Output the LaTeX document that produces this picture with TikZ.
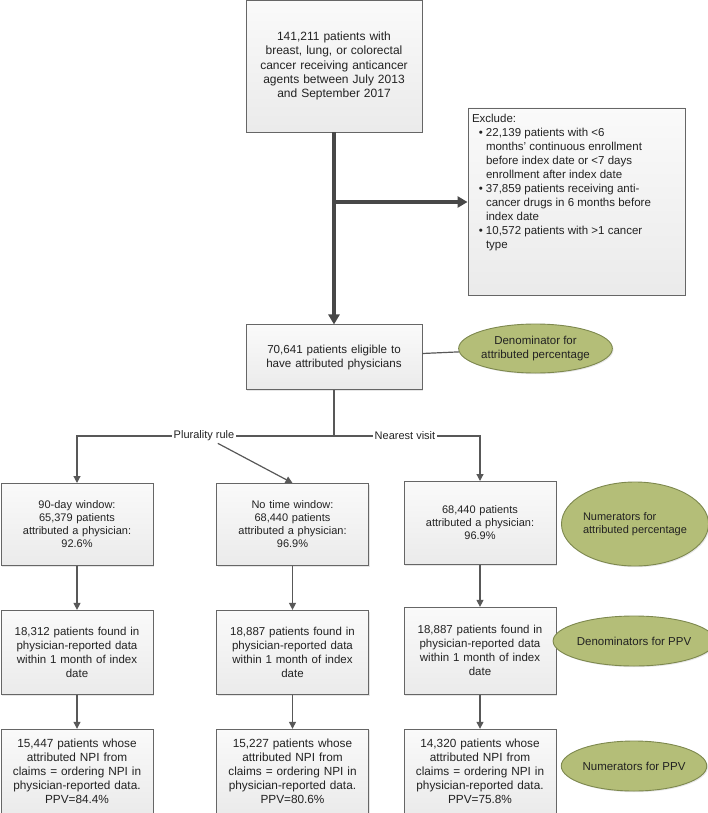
\documentclass[tikz,border=0pt]{standalone}
\usepackage{fontspec}
\setmainfont{Liberation Sans}
\usepackage{xcolor}
\usetikzlibrary{arrows.meta,positioning,shapes.geometric,shadows}

\definecolor{boxline}{RGB}{102,102,102}
\definecolor{inkgray}{RGB}{34,34,34}
\definecolor{linkgray}{RGB}{88,88,88}
\definecolor{trunkgray}{RGB}{72,72,72}
\definecolor{ovalfill}{RGB}{180,190,120}
\definecolor{ovalline}{RGB}{125,136,78}

\newcommand{\xbul}{\makebox[14pt][r]{\textbullet\hspace{3pt}}}
\newcommand{\xcont}{\hspace*{14pt}}

\begin{document}
\begin{tikzpicture}[
  x=1pt, y=-1pt,
  font=\fontsize{11}{13}\selectfont,
  text=inkgray,
  box/.style={draw=boxline, line width=0.9pt, top color=black!2, bottom color=black!8,
    drop shadow={opacity=0.2, shadow xshift=1.2pt, shadow yshift=-1.2pt}},
  stage/.style={box, align=center, text width=142pt, minimum width=152pt},
  stagemid/.style={stage, font=\fontsize{11.5}{14}\selectfont},
  stagelow/.style={stage, font=\fontsize{11.8}{14.2}\selectfont},
  wide/.style={box, align=center, text width=166pt, minimum width=176pt},
  oval/.style={ellipse, draw=ovalline, line width=0.9pt, fill=ovalfill, inner sep=0pt,
    drop shadow={opacity=0.2, shadow xshift=1.2pt, shadow yshift=-1.2pt}},
  tag/.style={inner sep=2pt},
  link/.style={draw=linkgray, line width=1.2pt},
  conn/.style={link, -{Triangle[width=7pt, length=7pt]}},
  trunk/.style={draw=trunkgray, line width=3.3pt, -{Triangle[width=11pt, length=10pt]}},
]
\useasboundingbox (0,0) rectangle (708,813);

\node[wide, minimum height=132pt, font=\fontsize{12}{14.2}\selectfont] (start) at (334,66)
  {141,211 patients with\\breast, lung, or colorectal\\cancer receiving anticancer\\agents between July 2013\\and September 2017};
\node[wide, minimum height=65pt, below=192pt of start, font=\fontsize{11.6}{13.5}\selectfont] (elig)
  {70,641 patients eligible to\\have attributed physicians};
\node[box, inner xsep=4pt, inner ysep=6pt, minimum width=217pt, minimum height=187pt] (excl) at (576.5,201.5)
  {\begin{minipage}[t][175pt][t]{209pt}\fontsize{11.5}{14}\selectfont
   Exclude:\\
   \xbul 22,139 patients with <6\\
   \xcont months' continuous enrollment\\
   \xcont before index date or <7 days\\
   \xcont enrollment after index date\\
   \xbul 37,859 patients receiving anti-\\
   \xcont cancer drugs in 6 months before\\
   \xcont index date\\
   \xbul 10,572 patients with >1 cancer\\
   \xcont type
   \end{minipage}};
\node[oval, align=center, minimum width=135pt, minimum height=49pt, font=\fontsize{11.5}{13.5}\selectfont] (denom) at (535.5,348.5)
  {Denominator for\\attributed percentage};

\coordinate (split) at (334,202);
\coordinate (fork) at (334,436);
\node[tag] (plur) at (204,436) {Plurality rule};
\node[tag] (near) at (405,436) {Nearest visit};

\node[stage, minimum height=82pt, anchor=north] (r1a) at (77,483)
  {90-day window:\\65,379 patients\\attributed a physician:\\92.6\%};
\node[stage, minimum height=82pt, anchor=north] (r1b) at (292.5,483)
  {No time window:\\68,440 patients\\attributed a physician:\\96.9\%};
\node[stage, minimum height=83pt, anchor=north] (r1c) at (480,481)
  {68,440 patients\\attributed a physician:\\96.9\%};
\node[stagemid, minimum height=84pt, below=44pt of r1a] (r2a)
  {18,312 patients found in\\physician-reported data\\within 1 month of index\\date};
\node[stagemid, minimum height=84pt, below=44pt of r1b] (r2b)
  {18,887 patients found in\\physician-reported data\\within 1 month of index\\date};
\node[stagemid, minimum height=87pt, below=42pt of r1c] (r2c)
  {18,887 patients found in\\physician-reported data\\within 1 month of index\\date};
\node[stagelow, minimum height=84pt, below=34pt of r2a] (r3a)
  {15,447 patients whose\\attributed NPI from\\claims = ordering NPI in\\physician-reported data.\\PPV=84.4\%};
\node[stagelow, minimum height=84pt, below=34pt of r2b] (r3b)
  {15,227 patients whose\\attributed NPI from\\claims = ordering NPI in\\physician-reported data.\\PPV=80.6\%};
\node[stagelow, minimum height=84pt, below=34pt of r2c] (r3c)
  {14,320 patients whose\\attributed NPI from\\claims = ordering NPI in\\physician-reported data.\\PPV=75.8\%};

\node[oval, align=left, minimum width=141pt, minimum height=84pt] (nuattr) at (635,524)
  {Numerators for\\attributed percentage};
\node[oval, minimum width=142pt, minimum height=50pt, font=\fontsize{11.5}{13.5}\selectfont] (dnppv) at (634,641) {Denominators for PPV};
\node[oval, minimum width=142pt, minimum height=50pt, font=\fontsize{11.5}{13.5}\selectfont] (nuppv) at (634,766) {Numerators for PPV};

\draw[trunk] (start) -- (elig);
\draw[trunk] (split) -- (split -| excl.west);
\draw[link] (elig) -- (denom);
\draw[link] (elig) -- (fork);
\draw[link] (fork) -- (plur);
\draw[link] (fork) -- (near);
\draw[conn] (plur) -| (r1a);
\draw[conn] (plur) -- (r1b.north);
\draw[conn] (near) -| (r1c);
\draw[conn] (r1a) -- (r2a);
\draw[conn] (r1b) -- (r2b);
\draw[conn] (r1c) -- (r2c);
\draw[conn] (r2a) -- (r3a);
\draw[conn] (r2b) -- (r3b);
\draw[conn] (r2c) -- (r3c);
\end{tikzpicture}
\end{document}
